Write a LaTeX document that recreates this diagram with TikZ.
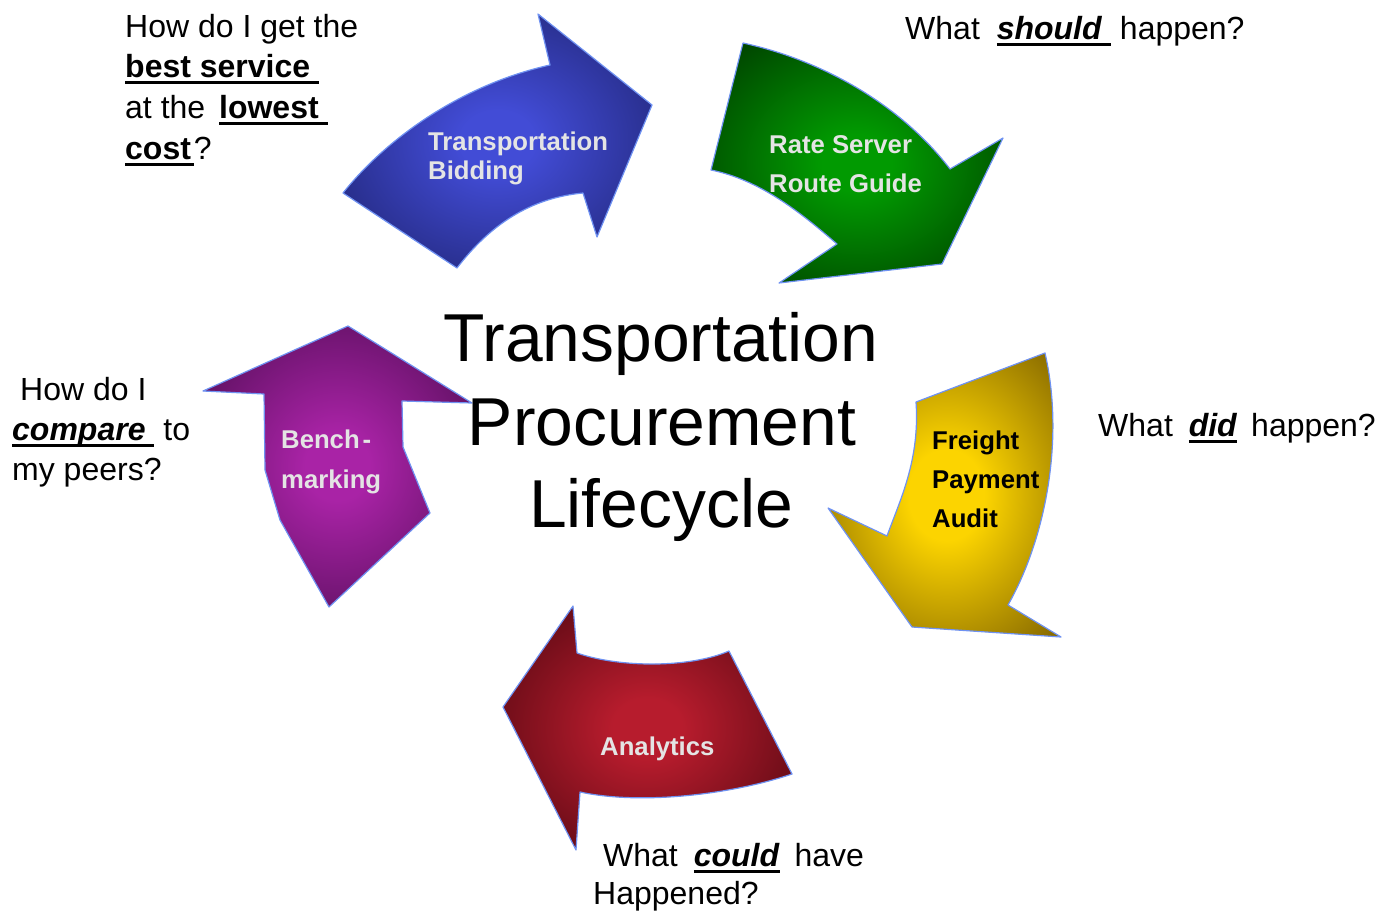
\documentclass[tikz,border=0pt]{standalone}
\usepackage{fontspec}
\setmainfont{Liberation Sans}

% fill colours: centre / rim of each arrow
\definecolor{blueC}{HTML}{424CD6}
\definecolor{blueE}{HTML}{22277A}
\definecolor{greenC}{HTML}{019A01}
\definecolor{greenE}{HTML}{004400}
\definecolor{yellowC}{HTML}{FCD400}
\definecolor{yellowE}{HTML}{8A6C00}
\definecolor{redC}{HTML}{B71C2D}
\definecolor{redE}{HTML}{5A0913}
\definecolor{purpleC}{HTML}{A923A6}
\definecolor{purpleE}{HTML}{580F5C}
\definecolor{edgeblue}{HTML}{6F92F2}
\definecolor{labelgray}{HTML}{E4E4E4}

\pgfdeclareradialshading{blueglow}{\pgfpoint{0bp}{0bp}}{color(0bp)=(blueC); color(6bp)=(blueC); color(32bp)=(blueE); color(50bp)=(blueE)}
\pgfdeclareradialshading{greenglow}{\pgfpoint{0bp}{0bp}}{color(0bp)=(greenC); color(6bp)=(greenC); color(32bp)=(greenE); color(50bp)=(greenE)}
\pgfdeclareradialshading{yellowglow}{\pgfpoint{0bp}{0bp}}{color(0bp)=(yellowC); color(8bp)=(yellowC); color(33bp)=(yellowE); color(50bp)=(yellowE)}
\pgfdeclareradialshading{redglow}{\pgfpoint{0bp}{0bp}}{color(0bp)=(redC); color(6bp)=(redC); color(32bp)=(redE); color(50bp)=(redE)}
\pgfdeclareradialshading{purpleglow}{\pgfpoint{0bp}{0bp}}{color(0bp)=(purpleC); color(6bp)=(purpleC); color(32bp)=(purpleE); color(50bp)=(purpleE)}

% thick underline that follows the width of its argument
\newsavebox\ulbox
\newcommand\ulword[1]{\sbox\ulbox{#1}\rlap{\rule[-7pt]{\wd\ulbox}{3.5pt}}\usebox\ulbox}

\tikzset{
  arrowshape/.style={draw=edgeblue, line width=1.2pt, line join=round},
  question/.style={inner sep=0pt, anchor=base west, font=\fontsize{32}{38}\selectfont},
  arrowlabel/.style={inner sep=0pt, anchor=base west, text=labelgray, font=\fontsize{25.7}{30}\selectfont\bfseries},
  titleline/.style={inner sep=0pt, anchor=base, font=\fontsize{67.8}{80}\selectfont},
}

\begin{document}
\begin{tikzpicture}[x=1pt, y=-1pt]
\useasboundingbox (0,0) rectangle (1393,913);

% ---- cycle arrows ----
% Transportation Bidding
\path[arrowshape, shading=blueglow]
  (343,193) .. controls (385,140) and (460,85) .. (550,65)
  -- (538,14) -- (652,105) -- (597,237) -- (583,193)
  .. controls (530,198) and (490,225) .. (457,268) -- cycle;
% Rate Server / Route Guide
\path[arrowshape, shading=greenglow]
  (743,43) .. controls (830,62) and (905,110) .. (950,169)
  -- (1003,138) -- (942,264) -- (779,283) -- (837,244)
  .. controls (800,212) and (760,180) .. (711,170) -- cycle;
% Freight Payment Audit
\path[arrowshape, shading=yellowglow]
  (1045,353) -- (916,402) .. controls (920,460) and (900,500) .. (887,536)
  -- (828,508) -- (912,627) -- (1061,637) -- (1008,605)
  .. controls (1045,540) and (1065,440) .. cycle;
% Analytics
\path[arrowshape, shading=redglow]
  (573,606) -- (577,653) .. controls (620,668) and (690,668) .. (729,651)
  -- (792,774) .. controls (730,795) and (640,805) .. (580,792)
  -- (576,850) -- (503,707) -- cycle;
% Benchmarking
\path[arrowshape, shading=purpleglow]
  (348,326) -- (472,403) -- (402,401) -- (403,447) -- (430,513)
  -- (329,607) -- (280,520) -- (265,470) -- (264,394) -- (203,391) -- cycle;

% ---- labels inside the arrows ----
\node[arrowlabel] (bidA) at (428,150) {Transportation};
\node[arrowlabel] (bidB) at (428,179) {Bidding};
\node[arrowlabel] (rateA) at (769,153) {Rate Server};
\node[arrowlabel] (rateB) at (769,192) {Route Guide};
\node[arrowlabel, text=black] (fpaA) at (932,449) {Freight};
\node[arrowlabel, text=black] (fpaB) at (932,488) {Payment};
\node[arrowlabel, text=black] (fpaC) at (932,527) {Audit};
\node[arrowlabel] (anl) at (600,755) {Analytics};
\node[arrowlabel] (benchA) at (281,448) {Bench\kern3pt-};
\node[arrowlabel] (benchB) at (281,488) {marking};

% ---- centre title ----
\node[titleline] (titleA) at (661,361) {Transportation};
\node[titleline] (titleB) at (662,445) {Procurement};
\node[titleline] (titleC) at (661,527) {Lifecycle};

% ---- questions ----
\node[question] (bestA) at (125,37) {How do I get the};
\node[question] (bestB) at (125,77) {\ulword{\textbf{best service\ }}};
\node[question] (bestC) at (125,118) {at the\kern5pt\ \ulword{\textbf{lowest\ }}};
\node[question] (bestD) at (125,159) {\ulword{\textbf{cost}\kern3pt}?};

\node[question] (should) at (905,39) {What\kern8pt\ \ulword{\textbf{\itshape should\ }} happen?};
\node[question] (did) at (1098,436) {What\kern7pt\ \ulword{\textbf{\itshape did}}\kern5pt\ happen?};

\node[question] (cmpA) at (20,400) {How do I};
\node[question] (cmpB) at (12,440) {\ulword{\textbf{\itshape compare\ }} to};
\node[question] (cmpC) at (12,480) {my peers?};

\node[question] (couldA) at (603,866) {What\kern7pt\ \ulword{\textbf{\itshape could}}\kern6pt\ have};
\node[question] (couldB) at (593,904) {Happened?};
\end{tikzpicture}
\end{document}
